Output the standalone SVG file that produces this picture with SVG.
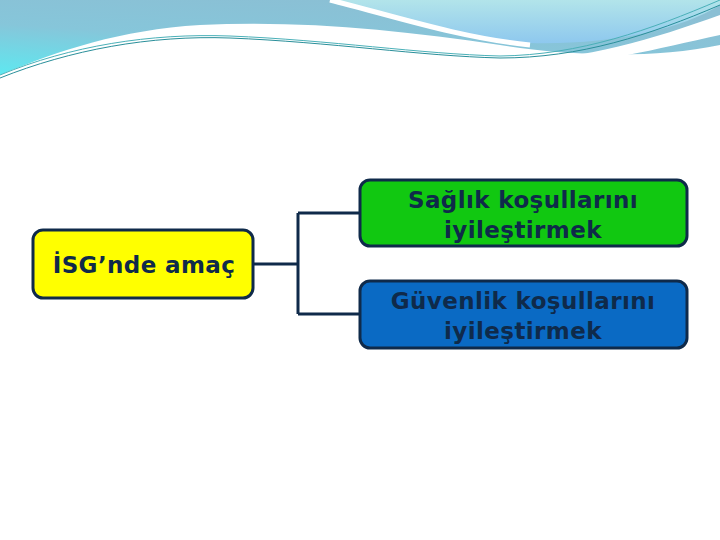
<svg xmlns="http://www.w3.org/2000/svg" width="720" height="540" viewBox="0 0 720 540">
<defs>
<style>
.n{stroke:#0f2a4a;stroke-width:3}
.t{font-family:"DejaVu Sans",Verdana,sans-serif;font-weight:bold;font-size:23px;letter-spacing:0.4px;fill:#0f2a4a;text-anchor:middle}
</style>
<linearGradient id="g1" x1="0" y1="1" x2="0.6" y2="0"><stop offset="0" stop-color="#5ee8f0"/><stop offset="0.5" stop-color="#86c6da"/><stop offset="1" stop-color="#8bbfd4"/></linearGradient>
<linearGradient id="g2" x1="0" y1="0" x2="0" y2="1"><stop offset="0" stop-color="#b2e4ea"/><stop offset="1" stop-color="#8ec8ee"/></linearGradient>
</defs>
<rect width="720" height="540" fill="#fff"/>
<g id="header">
<path d="M0 0H720V45C650 60 560 55 500 45C400 30 300 20 200 25C120 30 60 50 0 75Z" fill="url(#g1)"/>
<path d="M0 75C70 45 150 30 230 35C330 40 420 55 500 60C580 62 650 40 720 15V35C650 50 580 70 500 65C400 55 300 40 220 42C140 45 70 60 0 80Z" fill="#fff"/>
<path d="M330 0H720V5C680 30 610 45 530 43C460 38 390 15 330 0Z" fill="url(#g2)"/>
<path d="M330 0C390 15 460 38 530 45" fill="none" stroke="#fff" stroke-width="5"/>
<path d="M0 78C70 50 150 35 230 38C330 42 420 56 500 58C580 58 650 35 720 5" fill="none" stroke="#2a8f9a" stroke-width="1"/>
<path d="M0 75C70 46 150 33 230 36C330 40 420 54 500 56C580 55 650 30 720 0" fill="none" stroke="#4ab0b8" stroke-width="1"/>
</g>
<g id="connectors" fill="none" stroke="#0f2a4a" stroke-width="3">
<path d="M253 264H298M298 213V314M298 213H360M298 314H360"/>
</g>
<g id="root"><rect class="n" x="33" y="230" width="220" height="68" rx="10" fill="#ffff00"/><text class="t" x="144" y="273">İSG’nde amaç</text></g>
<g id="health"><rect class="n" x="360" y="180" width="327" height="66" rx="10" fill="#11c811"/><text class="t" x="523" y="208">Sağlık koşullarını</text><text class="t" x="523" y="238">iyileştirmek</text></g>
<g id="safety"><rect class="n" x="360" y="281" width="327" height="67" rx="10" fill="#0a6ac4"/><text class="t" x="523" y="309">Güvenlik koşullarını</text><text class="t" x="523" y="339">iyileştirmek</text></g>
</svg>
